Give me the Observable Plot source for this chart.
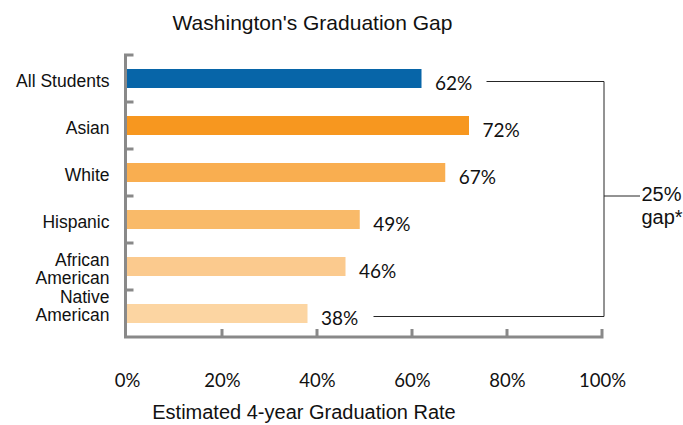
<!DOCTYPE html>
<html>
<head>
<meta charset="utf-8">
<script src="https://cdn.jsdelivr.net/npm/d3@7"></script>
<script src="https://cdn.jsdelivr.net/npm/@observablehq/plot@0.6"></script>
<style>
  html, body { margin: 0; padding: 0; background: #ffffff; }
  #chart svg { display: block; }
</style>
</head>
<body>
<div id="chart"></div>
<script>
// ---- data ----
const title = "Washington's Graduation Gap";
const xLabel = "Estimated 4-year Graduation Rate";
const categories = ["All Students", "Asian", "White", "Hispanic", "African American", "Native American"];
const categoryLabels = ["All Students", "Asian", "White", "Hispanic", "African\nAmerican", "Native\nAmerican"];
const rates = [62, 72, 67, 49, 46, 38];
const colors = ["#0765a8", "#f7971f", "#f9ae50", "#f9ba69", "#fbca8e", "#fcd5a2"];
const xTicks = [0, 20, 40, 60, 80, 100];
const gapLabel = ["25%", "gap*"];

// ---- table built from the arrays ----
const data = categories.map((c, i) => ({category: c, rate: rates[i]}));
const labelOf = new Map(categories.map((c, i) => [c, categoryLabels[i]]));

const AXIS_GRAY = "#898989";
const LINE_DARK = "#262626";
const SANS = "'Liberation Sans', Arial, sans-serif";
const NUM = "Lato, 'Open Sans', sans-serif";

// band helper from the plot's own y scale
function bandOf(scales, dims) {
  const s = scales.scales && scales.scales.y;
  if (s && typeof s.apply === "function" && s.bandwidth != null) {
    const step = s.apply(categories[1]) - s.apply(categories[0]);
    return {start: c => s.apply(c), bw: s.bandwidth, step};
  }
  const b = d3.scaleBand(categories, [dims.marginTop, dims.height - dims.marginBottom])
    .paddingInner(0.6).paddingOuter(0.3);
  return {start: c => b(c), bw: b.bandwidth(), step: b.step()};
}

// axis lines + ticks (gray L-shaped frame)
function axesMark(index, scales, values, dims) {
  const x = scales.x;
  const yb = bandOf(scales, dims);
  const yTop = dims.marginTop;
  const yBot = dims.height - dims.marginBottom;
  const x0 = x(xTicks[0]) - 1.5;
  const xEnd = x(xTicks[xTicks.length - 1]) + 1.5;
  const p = d3.path();
  p.moveTo(x0, yTop); p.lineTo(x0, yBot); p.lineTo(xEnd, yBot);
  for (const c of categories) {
    const yy = yb.start(c) - (yb.step - yb.bw) / 2;
    p.moveTo(x0 - 1.5, yy); p.lineTo(x0 + 8, yy);
  }
  for (const t of xTicks.slice(1)) {
    const xx = Math.min(x(t), xEnd - 1.5);
    p.moveTo(xx, yBot); p.lineTo(xx, yBot - 8);
  }
  return d3.create("svg:path")
    .attr("d", p.toString())
    .attr("fill", "none")
    .attr("stroke", AXIS_GRAY)
    .attr("stroke-width", 3)
    .node();
}

// bracket showing the gap between All Students and Native American
function bracketMark(index, scales, values, dims) {
  const x = scales.x;
  const yb = bandOf(scales, dims);
  const top = categories[0], bottom = categories[categories.length - 1];
  const yT = yb.start(top) + yb.bw / 2 + 3;
  const yB = yb.start(bottom) + yb.bw / 2 + 3;
  const yMid = (yb.start(top) + yb.start(bottom)) / 2 + yb.bw / 2;
  const xr = x(xTicks[xTicks.length - 1]) + 2;
  const xT = x(rates[0]) + 65;
  const xB = x(rates[rates.length - 1]) + 66;
  const p = d3.path();
  p.moveTo(xT, yT); p.lineTo(xr, yT); p.lineTo(xr, yB); p.lineTo(xB, yB);
  p.moveTo(xr, yMid); p.lineTo(xr + 36, yMid);
  return d3.create("svg:path")
    .attr("d", p.toString())
    .attr("fill", "none")
    .attr("stroke", LINE_DARK)
    .attr("stroke-width", 1)
    .node();
}

const lastCat = categories[categories.length - 1];

const chart = Plot.plot({
  width: 683,
  height: 425,
  marginLeft: 127,
  marginRight: 81,
  marginTop: 55,
  marginBottom: 88,
  style: {background: "#ffffff", fontFamily: SANS, color: "#111"},
  x: {domain: [0, 100]},
  y: {domain: categories, paddingInner: 0.6, paddingOuter: 0.3},
  color: {domain: categories, range: colors},
  marks: [
    Plot.barX(data, {x: "rate", y: "category", fill: "category"}),
    axesMark,
    bracketMark,
    Plot.text(data, {
      x: "rate", y: "category", text: d => d.rate + "%",
      dx: 13, dy: 4.5, textAnchor: "start",
      fontFamily: NUM, fontSize: 19, fill: "#111"
    }),
    Plot.axisX(xTicks, {
      tickSize: 0, tickPadding: 36, tickFormat: d => d + "%", label: null,
      fontFamily: NUM, fontSize: 18.5, fill: "#111"
    }),
    Plot.axisY(categories.filter(c => c !== lastCat), {
      tickSize: 0, tickPadding: 18, tickFormat: c => labelOf.get(c), label: null,
      fontFamily: SANS, fontSize: 17.5, lineHeight: 1.05, dy: 2, fill: "#111"
    }),
    Plot.axisY([lastCat], {
      tickSize: 0, tickPadding: 18, tickFormat: c => labelOf.get(c), label: null,
      fontFamily: SANS, fontSize: 17.5, lineHeight: 1.05, dy: -8, fill: "#111"
    }),
    Plot.text([gapLabel.join("\n")], {
      text: d => d, frameAnchor: "right", dx: 39, dy: -12,
      lineAnchor: "top", textAnchor: "start", lineHeight: 1.15,
      fontFamily: SANS, fontSize: 20, fill: "#111"
    }),
    Plot.text([title], {
      text: d => d, frameAnchor: "top", dx: -52.5, dy: -40,
      lineAnchor: "top", fontFamily: SANS, fontSize: 21, letterSpacing: "-0.4px", fill: "#111"
    }),
    Plot.text([xLabel], {
      text: d => d, frameAnchor: "bottom", dx: -61, dy: 67,
      lineAnchor: "top", fontFamily: SANS, fontSize: 20, fill: "#111"
    })
  ]
});

document.getElementById("chart").appendChild(chart);
</script>
</body>
</html>
